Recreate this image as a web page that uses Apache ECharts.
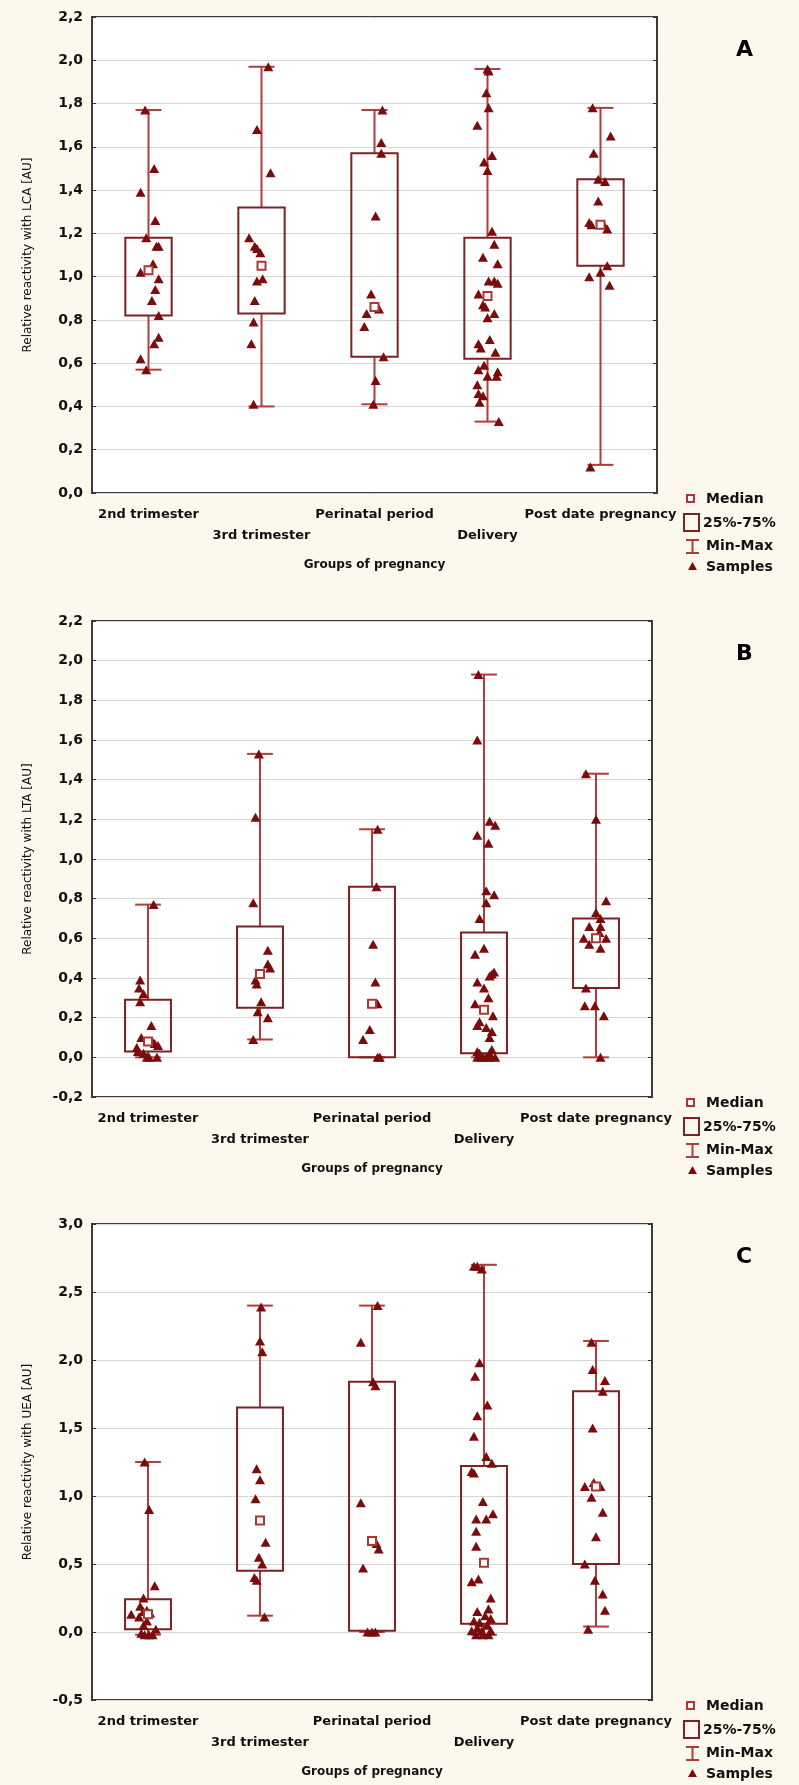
<!DOCTYPE html>
<html>
<head>
<meta charset="utf-8">
<script src="https://cdn.jsdelivr.net/npm/echarts@6/dist/echarts.min.js"></script>
<style>
html,body{margin:0;padding:0;background:#fcf8ee;}
#main{width:799px;height:1785px;}
</style>
</head>
<body>
<div id="main"></div>
<script>
var groups = ['2nd trimester', '3rd trimester', 'Perinatal period', 'Delivery', 'Post date pregnancy'];

// y axis: [min, max, interval]
var lcaAxis = [0, 2.2, 0.2];
var ltaAxis = [-0.2, 2.2, 0.2];
var ueaAxis = [-0.5, 3.0, 0.5];

// box stats per group: [min, q1, median, q3, max]
var lcaBox = [[0.57, 0.82, 1.03, 1.18, 1.77], [0.40, 0.83, 1.05, 1.32, 1.97], [0.41, 0.63, 0.86, 1.57, 1.77], [0.33, 0.62, 0.91, 1.18, 1.96], [0.13, 1.05, 1.24, 1.45, 1.78]];
var ltaBox = [[0.0, 0.03, 0.08, 0.29, 0.77], [0.09, 0.25, 0.42, 0.66, 1.53], [0.0, 0.0, 0.27, 0.86, 1.15], [0.0, 0.02, 0.24, 0.63, 1.93], [0.0, 0.35, 0.60, 0.70, 1.43]];
var ueaBox = [[-0.02, 0.02, 0.13, 0.24, 1.25], [0.12, 0.45, 0.82, 1.65, 2.40], [0.0, 0.01, 0.67, 1.84, 2.40], [-0.02, 0.06, 0.51, 1.22, 2.70], [0.04, 0.50, 1.07, 1.77, 2.14]];

// samples per group: [horizontal jitter (in groups), value]
var lcaSamples = [
	[[-0.03,1.77],[0.05,1.50],[-0.07,1.39],[0.06,1.26],[-0.02,1.18],[0.09,1.14],[0.07,1.14],[0.04,1.06],[-0.07,1.02],[0.09,0.99],[0.06,0.94],[0.03,0.89],[0.09,0.82],[0.09,0.72],[0.05,0.69],[-0.07,0.62],[-0.02,0.57]],
	[[0.06,1.97],[-0.04,1.68],[0.08,1.48],[-0.11,1.18],[-0.06,1.14],[-0.04,1.13],[-0.01,1.11],[0.01,0.99],[-0.04,0.98],[-0.06,0.89],[-0.07,0.79],[-0.09,0.69],[-0.07,0.41]],
	[[0.07,1.77],[0.06,1.62],[0.06,1.57],[0.01,1.28],[-0.03,0.92],[-0.07,0.83],[0.04,0.85],[-0.09,0.77],[0.08,0.63],[0.01,0.52],[-0.01,0.41]],
	[[0.00,1.96],[0.01,1.95],[-0.01,1.85],[0.01,1.78],[-0.09,1.70],[0.04,1.56],[-0.03,1.53],[0.00,1.49],[0.04,1.21],[0.06,1.15],[-0.04,1.09],[0.09,1.06],[0.01,0.98],[0.06,0.98],[0.09,0.97],[-0.08,0.92],[-0.04,0.87],[-0.02,0.86],[0.06,0.83],[0.00,0.81],[-0.08,0.69],[-0.06,0.67],[0.02,0.71],[0.07,0.65],[-0.03,0.59],[-0.08,0.57],[0.09,0.56],[0.08,0.54],[0.00,0.54],[-0.09,0.50],[-0.08,0.46],[-0.04,0.45],[-0.07,0.42],[0.10,0.33]],
	[[-0.07,1.78],[0.09,1.65],[-0.06,1.57],[-0.02,1.45],[0.04,1.44],[-0.02,1.35],[-0.10,1.25],[-0.08,1.24],[0.03,1.24],[0.06,1.22],[0.06,1.05],[0.00,1.02],[-0.10,1.00],[0.08,0.96],[-0.09,0.12]]
];
var ltaSamples = [
	[[0.05,0.77],[-0.07,0.39],[-0.08,0.35],[-0.04,0.32],[-0.07,0.28],[0.03,0.16],[-0.06,0.10],[0.04,0.08],[0.06,0.07],[0.09,0.06],[-0.10,0.05],[-0.09,0.03],[-0.04,0.02],[-0.01,0.0],[0.01,0.0],[0.08,0.0]],
	[[-0.01,1.53],[-0.04,1.21],[-0.06,0.78],[0.07,0.54],[0.07,0.47],[0.09,0.45],[-0.04,0.39],[-0.03,0.37],[0.01,0.28],[-0.02,0.23],[0.07,0.20],[-0.06,0.09]],
	[[0.05,1.15],[0.04,0.86],[0.01,0.57],[0.03,0.38],[0.05,0.27],[-0.02,0.14],[-0.08,0.09],[0.05,0.0],[0.07,0.0]],
	[[-0.05,1.93],[-0.06,1.60],[0.05,1.19],[0.10,1.17],[-0.06,1.12],[0.04,1.08],[0.02,0.84],[0.09,0.82],[0.02,0.78],[-0.04,0.70],[0.00,0.55],[-0.08,0.52],[0.09,0.43],[0.07,0.42],[0.05,0.41],[-0.06,0.38],[0.00,0.35],[0.04,0.30],[-0.08,0.27],[0.08,0.21],[-0.04,0.18],[-0.06,0.16],[0.02,0.15],[0.07,0.13],[0.05,0.10],[-0.06,0.03],[0.07,0.04],[-0.06,0.0],[-0.02,0.0],[0.02,0.0],[0.05,0.0],[0.10,0.0],[-0.04,0.02],[0.05,0.02]],
	[[-0.09,1.43],[0.00,1.20],[0.09,0.79],[0.00,0.73],[0.04,0.70],[-0.06,0.66],[0.04,0.66],[0.03,0.63],[-0.11,0.60],[0.09,0.60],[-0.06,0.57],[0.04,0.55],[-0.09,0.35],[-0.10,0.26],[-0.01,0.26],[0.07,0.21],[0.04,0.0]]
];
var ueaSamples = [
	[[-0.03,1.25],[0.01,0.90],[0.06,0.34],[-0.04,0.25],[-0.07,0.19],[-0.01,0.16],[-0.04,0.15],[0.02,0.14],[-0.15,0.13],[-0.08,0.11],[-0.01,0.08],[-0.04,0.05],[0.07,0.02],[-0.06,-0.01],[-0.03,-0.02],[0.01,-0.02],[0.04,-0.02]],
	[[0.01,2.39],[0.00,2.14],[0.02,2.06],[-0.03,1.20],[0.00,1.12],[-0.04,0.98],[0.05,0.66],[-0.01,0.55],[0.02,0.50],[-0.05,0.40],[-0.03,0.38],[0.04,0.11]],
	[[0.05,2.40],[-0.10,2.13],[0.01,1.84],[0.03,1.81],[-0.10,0.95],[0.04,0.65],[0.06,0.61],[-0.08,0.47],[-0.04,0.0],[0.00,0.0],[0.03,0.0]],
	[[-0.09,2.69],[-0.06,2.69],[-0.02,2.67],[-0.04,1.98],[-0.08,1.88],[0.03,1.67],[-0.06,1.59],[-0.09,1.44],[0.02,1.29],[0.07,1.24],[-0.11,1.18],[-0.09,1.17],[-0.01,0.96],[0.08,0.87],[0.02,0.83],[-0.07,0.83],[-0.07,0.74],[-0.07,0.63],[-0.11,0.37],[-0.05,0.39],[0.06,0.25],[-0.06,0.15],[0.04,0.17],[0.01,0.12],[0.06,0.10],[-0.09,0.08],[-0.04,0.07],[0.03,0.05],[-0.06,0.03],[-0.11,0.01],[-0.02,0.01],[0.06,0.01],[-0.07,-0.02],[-0.01,-0.02],[0.04,-0.02]],
	[[-0.04,2.13],[-0.03,1.93],[0.08,1.85],[0.06,1.77],[-0.03,1.50],[-0.10,1.07],[-0.02,1.10],[0.04,1.07],[-0.04,0.99],[0.06,0.88],[0.00,0.70],[-0.10,0.50],[-0.01,0.38],[0.06,0.28],[0.08,0.16],[-0.07,0.02]]
];

var panels = [
	{letter: 'A', yName: 'Relative reactivity with LCA [AU]', axis: lcaAxis, box: lcaBox, samples: lcaSamples, top: 17, width: 565},
	{letter: 'B', yName: 'Relative reactivity with LTA [AU]', axis: ltaAxis, box: ltaBox, samples: ltaSamples, top: 621, width: 560},
	{letter: 'C', yName: 'Relative reactivity with UEA [AU]', axis: ueaAxis, box: ueaBox, samples: ueaSamples, top: 1224, width: 560}
];
var plotH = 476;

var boxColor = '#7b2222';
var whiskerColor = '#b23b3b';
var triColor = '#7a0c0c';
var medianColor = '#b23434';
var fontFam = '"DejaVu Sans", sans-serif';

function commaNum(v) {
	return v.toFixed(1).replace('.', ',');
}

function renderBox(params, api) {
	var x = api.value(0);
	var pMin = api.coord([x, api.value(1)]);
	var pQ1 = api.coord([x, api.value(2)]);
	var pQ3 = api.coord([x, api.value(4)]);
	var pMax = api.coord([x, api.value(5)]);
	var band = api.size([1, 0])[0];
	var bw = band * 0.41;
	var cw = band * 0.23;
	var ls = {stroke: whiskerColor, lineWidth: 2};
	return {
		type: 'group',
		children: [
			{type: 'line', shape: {x1: pMin[0], y1: pMin[1], x2: pQ1[0], y2: pQ1[1]}, style: ls},
			{type: 'line', shape: {x1: pQ3[0], y1: pQ3[1], x2: pMax[0], y2: pMax[1]}, style: ls},
			{type: 'line', shape: {x1: pMin[0] - cw / 2, y1: pMin[1], x2: pMin[0] + cw / 2, y2: pMin[1]}, style: ls},
			{type: 'line', shape: {x1: pMax[0] - cw / 2, y1: pMax[1], x2: pMax[0] + cw / 2, y2: pMax[1]}, style: ls},
			{type: 'rect', shape: {x: pQ3[0] - bw / 2, y: pQ3[1], width: bw, height: pQ1[1] - pQ3[1]},
				style: {fill: 'none', stroke: boxColor, lineWidth: 2}}
		]
	};
}

var option = {
	animation: false,
	backgroundColor: '#fcf8ee',
	grid: [], xAxis: [], yAxis: [], series: [], graphic: []
};

panels.forEach(function (p, k) {
	var bottom = p.top + plotH;
	option.grid.push({left: 92, top: p.top, width: p.width, height: plotH, show: true,
		backgroundColor: '#ffffff', borderColor: '#3c3c3c', borderWidth: 2});

	// bottom category axis with labels
	option.xAxis.push({
		type: 'category', gridIndex: k, position: 'bottom', data: groups, boundaryGap: true,
		axisLine: {show: false},
		axisTick: {alignWithLabel: true, length: 4, lineStyle: {color: '#333'}},
		axisLabel: {
			interval: 0, margin: 11, color: '#111', fontFamily: fontFam, fontWeight: 'bold', fontSize: 13, lineHeight: 21,
			formatter: function (v, i) { return i % 2 ? '\n' + v : v; }
		},
		name: 'Groups of pregnancy', nameLocation: 'middle', nameGap: 66,
		nameTextStyle: {color: '#111', fontFamily: fontFam, fontWeight: 'bold', fontSize: 12}
	});
	// top ticks only
	option.xAxis.push({
		type: 'category', gridIndex: k, position: 'top', data: groups, boundaryGap: true,
		axisLine: {show: false}, axisLabel: {show: false},
		axisTick: {alignWithLabel: true, inside: true, length: 4, lineStyle: {color: '#333'}}
	});
	// hidden value axis for jittered points
	option.xAxis.push({type: 'value', gridIndex: k, min: 0, max: groups.length, show: false});

	option.yAxis.push({
		type: 'value', gridIndex: k, position: 'left', min: p.axis[0], max: p.axis[1], interval: p.axis[2],
		axisLine: {show: false},
		axisTick: {show: true, inside: true, length: 4, lineStyle: {color: '#333'}},
		splitLine: {show: true, lineStyle: {color: '#d6d6d6', width: 1}},
		axisLabel: {margin: 9, color: '#111', fontFamily: fontFam, fontWeight: 'bold', fontSize: 14, formatter: commaNum},
		name: p.yName, nameLocation: 'middle', nameGap: 58,
		nameTextStyle: {color: '#111', fontFamily: fontFam, fontSize: 12}
	});
	option.yAxis.push({
		type: 'value', gridIndex: k, position: 'right', min: p.axis[0], max: p.axis[1], interval: p.axis[2],
		axisLine: {show: false}, axisLabel: {show: false}, splitLine: {show: false},
		axisTick: {show: true, inside: true, length: 4, lineStyle: {color: '#333'}}
	});

	var boxData = p.box.map(function (b, i) { return [i].concat(b); });
	var pts = [];
	p.samples.forEach(function (list, i) {
		list.forEach(function (s) { pts.push([i + 0.5 + s[0], s[1]]); });
	});
	var med = p.box.map(function (b, i) { return [i + 0.5, b[2]]; });

	option.series.push({
		type: 'custom', xAxisIndex: k * 3, yAxisIndex: k * 2, renderItem: renderBox,
		encode: {x: 0, y: [1, 2, 3, 4, 5]}, data: boxData, z: 2, silent: true
	});
	option.series.push({
		type: 'scatter', xAxisIndex: k * 3 + 2, yAxisIndex: k * 2, data: pts,
		symbol: 'triangle', symbolSize: [10, 9], itemStyle: {color: triColor, opacity: 1}, z: 3
	});
	option.series.push({
		type: 'scatter', xAxisIndex: k * 3 + 2, yAxisIndex: k * 2, data: med,
		symbol: 'rect', symbolSize: 8, itemStyle: {color: '#ffffff', borderColor: medianColor, borderWidth: 2, opacity: 1}, z: 4
	});

	// panel letter
	option.graphic.push({type: 'text', x: 736, y: p.top + 22,
		style: {text: p.letter, font: 'bold 22px ' + fontFam, fill: '#000'}});

	// legend (drawn by hand, one per panel)
	var lf = 'bold 14px ' + fontFam;
	option.graphic.push({type: 'group', children: [
		{type: 'rect', shape: {x: 687, y: bottom + 2, width: 7, height: 7}, style: {fill: 'none', stroke: medianColor, lineWidth: 2}},
		{type: 'text', x: 706, y: bottom + 6, style: {text: 'Median', font: lf, fill: '#111', verticalAlign: 'middle'}},
		{type: 'rect', shape: {x: 684, y: bottom + 21, width: 15, height: 17}, style: {fill: 'none', stroke: boxColor, lineWidth: 2}},
		{type: 'text', x: 703, y: bottom + 30, style: {text: '25%-75%', font: lf, fill: '#111', verticalAlign: 'middle'}},
		{type: 'polyline', shape: {points: [[686, bottom + 47], [699, bottom + 47]]}, style: {stroke: whiskerColor, lineWidth: 2}},
		{type: 'polyline', shape: {points: [[692.5, bottom + 47], [692.5, bottom + 60]]}, style: {stroke: whiskerColor, lineWidth: 2}},
		{type: 'polyline', shape: {points: [[686, bottom + 60], [699, bottom + 60]]}, style: {stroke: whiskerColor, lineWidth: 2}},
		{type: 'text', x: 706, y: bottom + 53, style: {text: 'Min-Max', font: lf, fill: '#111', verticalAlign: 'middle'}},
		{type: 'polygon', shape: {points: [[692.5, bottom + 69], [697, bottom + 77], [688, bottom + 77]]}, style: {fill: triColor}},
		{type: 'text', x: 706, y: bottom + 74, style: {text: 'Samples', font: lf, fill: '#111', verticalAlign: 'middle'}}
	]});
});

var chart = echarts.init(document.getElementById('main'));
chart.setOption(option);
</script>
</body>
</html>
